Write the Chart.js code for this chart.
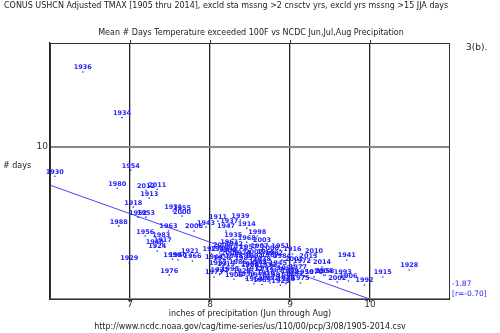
<!DOCTYPE html>
<html>
<head>
<meta charset="utf-8">
<script src="https://cdn.jsdelivr.net/npm/chart.js"></script>
<style>
  html, body { margin: 0; padding: 0; background: #fff; }
  #wrap { width: 500px; height: 333px; }
</style>
</head>
<body>
<div id="wrap"><canvas id="chartScatter"></canvas></div>
<script>
const years = [
  1905, 1906, 1907, 1908, 1909, 1910, 1911, 1912, 1913, 1914,
  1915, 1916, 1917, 1918, 1919, 1920, 1921, 1922, 1923, 1924,
  1925, 1926, 1927, 1928, 1929, 1930, 1931, 1932, 1933, 1934,
  1935, 1936, 1937, 1938, 1939, 1940, 1941, 1942, 1943, 1944,
  1945, 1946, 1947, 1948, 1949, 1950, 1951, 1952, 1953, 1954,
  1955, 1956, 1957, 1958, 1959, 1960, 1961, 1962, 1963, 1964,
  1965, 1966, 1967, 1968, 1969, 1970, 1971, 1972, 1973, 1974,
  1975, 1976, 1977, 1978, 1979, 1980, 1981, 1982, 1983, 1984,
  1985, 1986, 1987, 1988, 1989, 1990, 1991, 1992, 1993, 1994,
  1995, 1996, 1997, 1998, 1999, 2000, 2001, 2002, 2003, 2004,
  2005, 2006, 2007, 2008, 2009, 2010, 2011, 2012, 2013, 2014
];

// inches of precipitation, Jun-Aug
const precip = [
  8.30, 9.73, 8.62, 8.50, 8.22, 8.70, 8.10, 8.55, 7.24, 8.46,
  10.16, 9.03, 7.41, 7.04, 8.20, 8.15, 7.75, 8.12, 8.88, 7.34,
  8.40, 8.95, 8.02, 10.49, 6.99, 6.06, 7.54, 8.72, 8.10, 6.90,
  8.29, 6.41, 8.24, 8.65, 8.38, 7.31, 9.71, 8.30, 7.95, 8.05,
  8.85, 8.95, 8.20, 8.30, 8.12, 9.18, 8.88, 7.10, 7.20, 7.01,
  7.65, 7.19, 8.48, 9.44, 8.45, 7.60, 8.24, 8.60, 7.48, 8.55,
  8.70, 7.78, 8.75, 8.46, 8.80, 9.30, 8.35, 9.15, 8.05, 8.40,
  9.13, 7.49, 9.10, 8.50, 8.60, 6.84, 8.82, 8.80, 7.39, 8.90,
  8.42, 8.35, 9.05, 6.86, 8.65, 7.53, 8.75, 9.93, 9.66, 8.55,
  8.25, 8.95, 8.68, 8.59, 9.00, 7.65, 9.05, 9.59, 8.65, 9.42,
  8.25, 7.80, 8.55, 8.75, 8.15, 9.30, 7.34, 7.20, 9.23, 9.40
];

// mean # days over 100F
const days = [
  1.30, 1.18, 3.20, 1.90, 2.92, 1.40, 5.11, 1.65, 6.62, 4.65,
  1.44, 2.95, 3.54, 6.03, 2.00, 2.38, 2.82, 1.60, 0.90, 3.15,
  1.55, 1.20, 2.95, 1.90, 2.36, 8.06, 5.77, 1.95, 2.05, 11.90,
  3.93, 14.90, 4.85, 2.35, 5.18, 3.41, 2.56, 3.30, 4.72, 2.45,
  2.05, 1.00, 4.46, 2.50, 3.00, 1.50, 3.21, 5.37, 5.37, 8.45,
  5.64, 4.13, 3.10, 1.57, 1.35, 2.56, 3.41, 2.15, 4.46, 1.00,
  2.80, 2.49, 2.60, 3.73, 1.60, 1.45, 3.05, 2.20, 1.44, 2.75,
  1.05, 1.57, 1.80, 2.00, 1.25, 7.27, 1.30, 2.75, 3.93, 2.55,
  2.42, 2.10, 1.35, 4.78, 0.95, 2.62, 1.05, 0.92, 1.44, 2.55,
  1.70, 1.75, 1.75, 4.13, 1.55, 5.44, 2.30, 1.11, 3.60, 1.55,
  2.70, 4.46, 2.80, 3.08, 3.25, 2.88, 7.20, 7.14, 2.49, 2.10
];

const fitSlope = -1.87;
const fitIntercept = 18.69;
const fitR = -0.70;
const xTicks = [7, 8, 9, 10];
const yTicks = [10];

const BLUE = '#1f1fff';
const FONT = 'DejaVu Sans';

const points = years.map((yr, i) => ({ x: precip[i], y: days[i] }));
const fitLine = [6, 10].map(x => ({ x: x, y: fitIntercept + fitSlope * x }));

const yearLabels = {
  id: 'yearLabels',
  afterDatasetsDraw(chart) {
    const ctx = chart.ctx;
    const meta = chart.getDatasetMeta(1);
    ctx.save();
    ctx.fillStyle = BLUE;
    ctx.font = 'bold 6.5px ' + FONT;
    ctx.textAlign = 'center';
    ctx.textBaseline = 'bottom';
    meta.data.forEach((pt, i) => {
      ctx.fillText(String(years[i]), pt.x, pt.y - 1);
    });
    ctx.restore();
  }
};

const frameAndText = {
  id: 'frameAndText',
  afterDraw(chart) {
    const ctx = chart.ctx;
    const a = chart.chartArea;
    ctx.save();
    ctx.strokeStyle = '#333';
    ctx.lineWidth = 1;
    ctx.strokeRect(a.left + 0.5, a.top + 0.5, a.right - a.left - 1, a.bottom - a.top);

    // tick marks along the top edge
    xTicks.forEach(v => {
      const px = Math.round(chart.scales.x.getPixelForValue(v)) + 0.5;
      ctx.beginPath();
      ctx.moveTo(px, a.top);
      ctx.lineTo(px, a.top - 3);
      ctx.stroke();
    });

    ctx.fillStyle = '#222';
    ctx.font = '8px ' + FONT;
    ctx.textBaseline = 'middle';
    ctx.textAlign = 'left';
    ctx.fillText('CONUS USHCN Adjusted TMAX [1905 thru 2014], excld sta mssng >2 cnsctv yrs, excld yrs mssng >15 JJA days', 4, 6);
    ctx.textAlign = 'center';
    ctx.fillText('Mean # Days Temperature exceeded 100F vs NCDC Jun,Jul,Aug Precipitation', 251, 33);
    ctx.fillText('inches of precipitation (Jun through Aug)', 250, 314);
    ctx.fillText('http://www.ncdc.noaa.gov/cag/time-series/us/110/00/pcp/3/08/1905-2014.csv', 250, 327);
    ctx.textAlign = 'left';
    ctx.fillText('# days', 3, 166);
    ctx.font = '9px ' + FONT;
    ctx.fillText('3(b).', 466, 48);

    ctx.fillStyle = BLUE;
    ctx.font = '7.5px ' + FONT;
    ctx.fillText(fitSlope.toFixed(2), 452, 284);
    ctx.fillText('[r=' + fitR.toFixed(2) + ']', 452, 294);
    ctx.restore();
  }
};

const config = {
  type: 'scatter',
  data: {
    datasets: [
      {
        type: 'line',
        data: fitLine,
        borderColor: '#4444ff',
        borderWidth: 1,
        pointRadius: 0,
        fill: false
      },
      {
        data: points,
        backgroundColor: BLUE,
        borderWidth: 0,
        pointRadius: 0.8,
        pointHoverRadius: 0.8
      }
    ]
  },
  options: {
    responsive: false,
    animation: false,
    devicePixelRatio: 1,
    layout: { padding: { top: 43, right: 50, left: 0, bottom: 0 } },
    plugins: {
      legend: { display: false },
      tooltip: { enabled: false }
    },
    scales: {
      x: {
        type: 'linear',
        min: 6,
        max: 11,
        afterFit(scale) { scale.height = 34; },
        afterBuildTicks(scale) { scale.ticks = xTicks.map(v => ({ value: v })); },
        ticks: {
          color: '#333',
          font: { family: FONT, size: 9 },
          padding: -3,
          maxRotation: 0
        },
        grid: {
          color: '#222',
          lineWidth: 1.3,
          tickLength: 3,
          drawOnChartArea: true
        },
        border: { color: '#888', width: 2 }
      },
      y: {
        type: 'linear',
        min: 0,
        max: 16.8,
        afterFit(scale) { scale.width = 50; },
        afterBuildTicks(scale) { scale.ticks = yTicks.map(v => ({ value: v })); },
        ticks: {
          color: '#333',
          font: { family: FONT, size: 9 },
          padding: 2
        },
        grid: {
          color: '#888',
          lineWidth: 2,
          tickLength: 0
        },
        border: { color: '#222', width: 1.3 }
      }
    }
  },
  plugins: [yearLabels, frameAndText]
};

const canvas = document.getElementById('chartScatter');
canvas.width = 500;
canvas.height = 333;
new Chart(canvas, config);
</script>
</body>
</html>
